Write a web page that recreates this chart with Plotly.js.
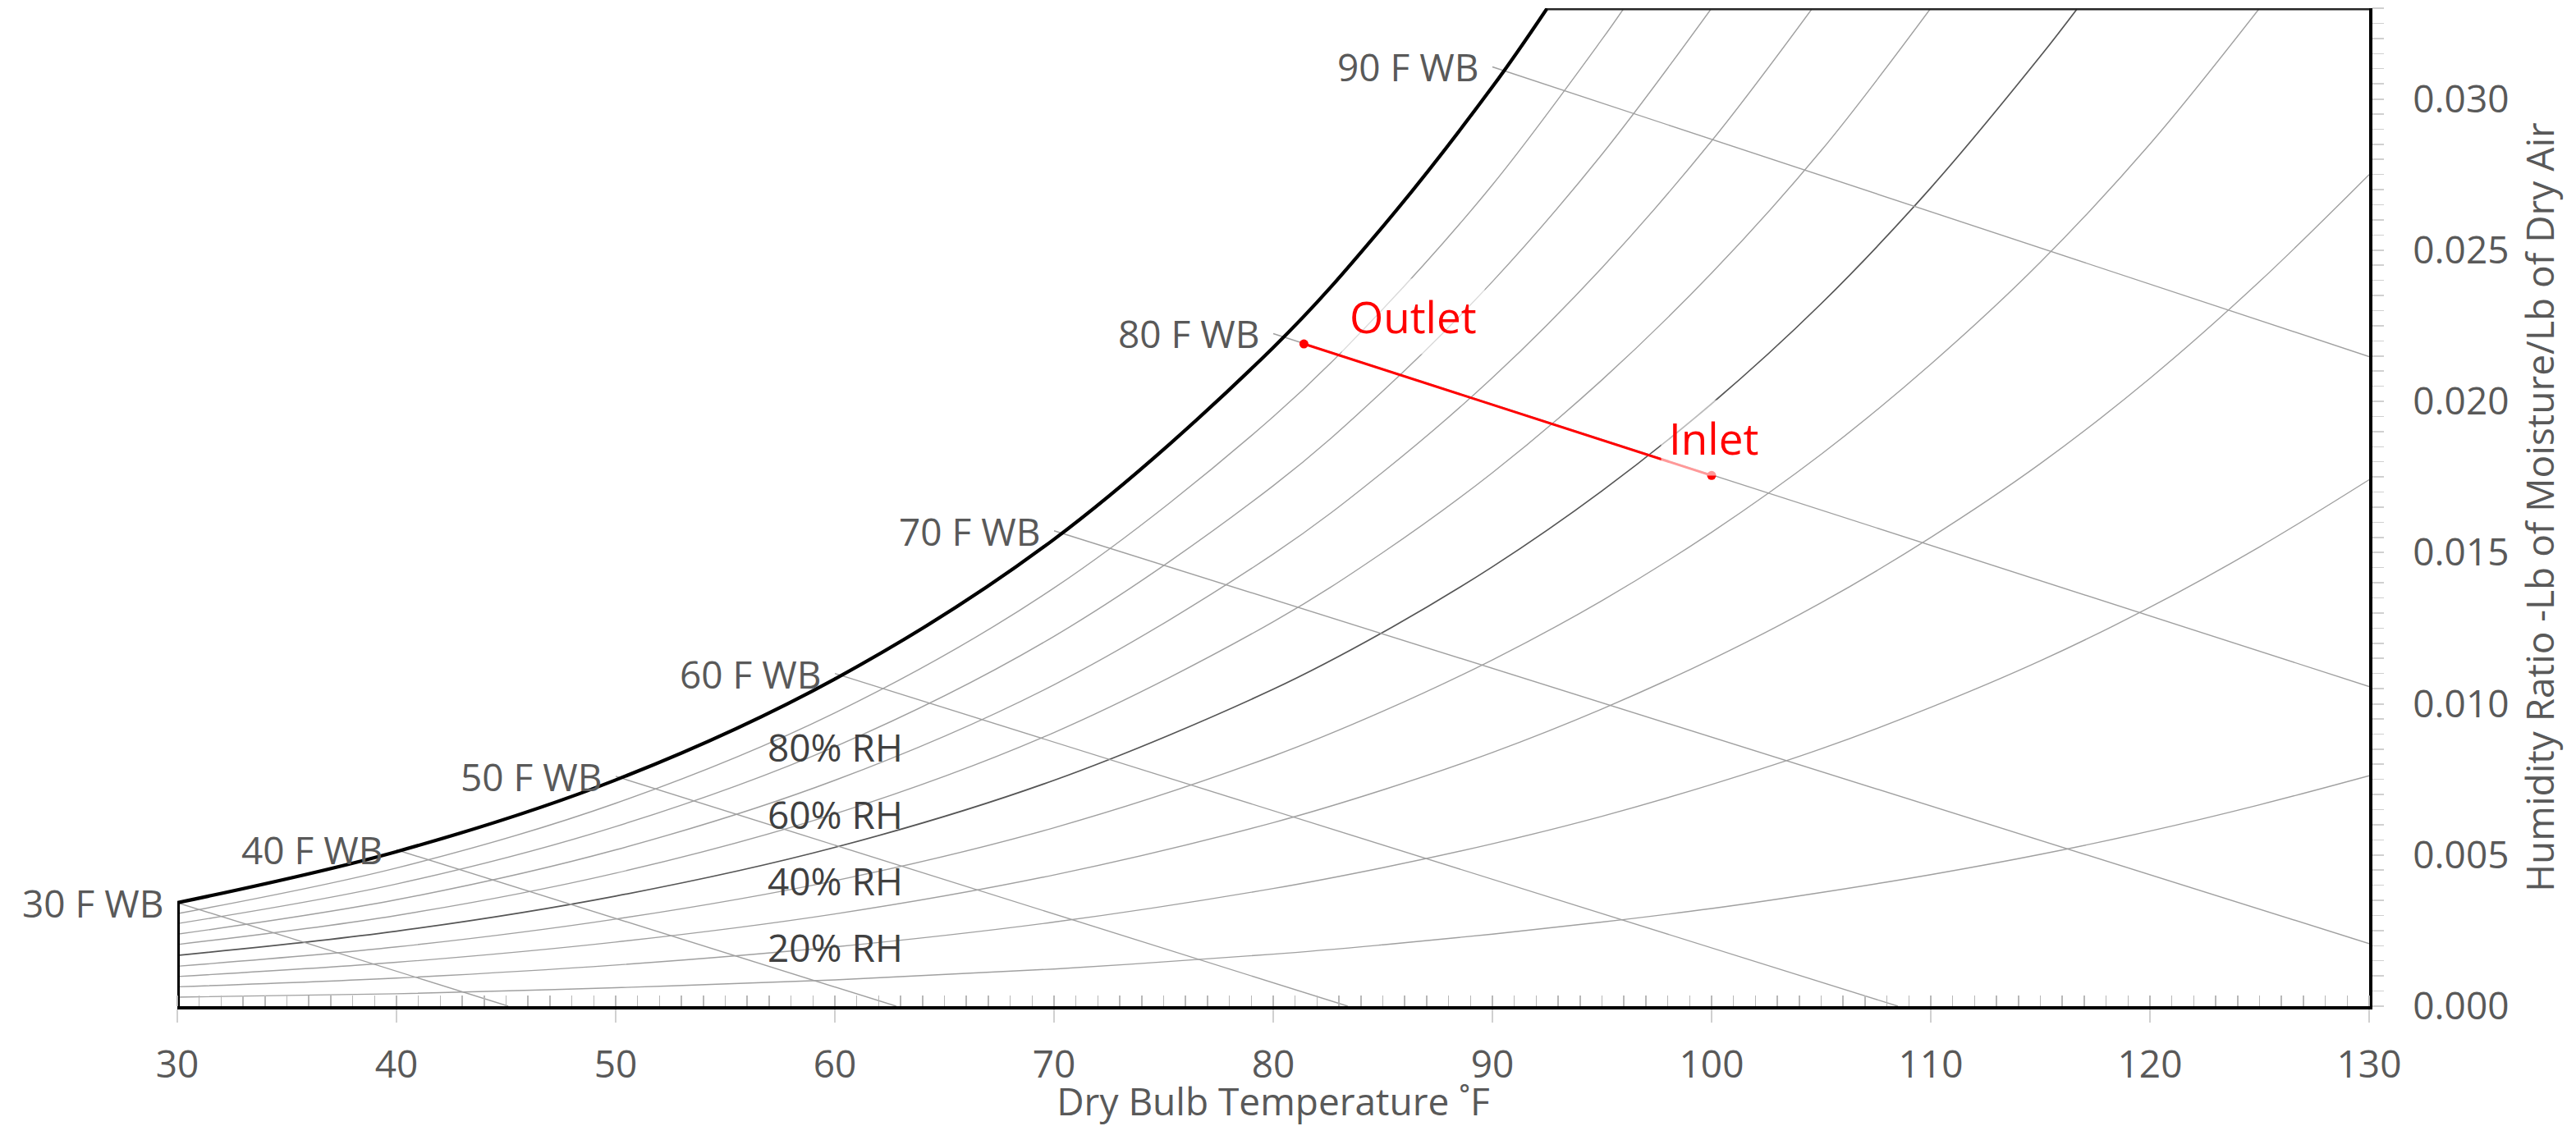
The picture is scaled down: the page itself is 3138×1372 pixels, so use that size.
<!DOCTYPE html>
<html>
<head>
<meta charset="utf-8">
<title>Psychrometric chart – evaporative cooling process</title>
<script src="https://cdn.plot.ly/plotly-3.0.1.min.js"></script>
<style>
  html, body { margin: 0; padding: 0; background: #ffffff; }
  #chart { width: 3138px; height: 1372px; }
</style>
</head>
<body>
<div id="chart"></div>
<script>
// ---------------------------------------------------------------
// Data: dry-bulb temperature (°F) vs humidity ratio (lb/lb dry air)
// ---------------------------------------------------------------

// Limits of the chart scales (curves stop at the top)
const tMin = 30, tMax = 130;
const wTop = 0.033;

// Saturation curve (the thick left boundary)
const satT = [30, 40, 50, 60, 70, 80, 85, 90, 92.5];
const satW = [0.00342, 0.00511, 0.00748, 0.01082, 0.01544, 0.02178, 0.02578, 0.03040, 0.03300];

// Dry-bulb temperatures at which the relative-humidity curves are sampled
const rhTemps = [30, 40, 50, 60, 70, 80, 85, 90, 95, 100, 105, 110, 115, 120, 125, 130];

// Relative-humidity levels (%) and their humidity ratios along rhTemps
const rhLevels = [90, 80, 70, 60, 50, 40, 30, 20, 10];
const rh90W = [0.00306, 0.00457, 0.00671, 0.00970, 0.01383, 0.01949, 0.02305, 0.02716, 0.03197];
const rh80W = [0.00273, 0.00404, 0.00594, 0.00858, 0.01223, 0.01721, 0.02034, 0.02396, 0.02817];
const rh70W = [0.00238, 0.00352, 0.00517, 0.00747, 0.01063, 0.01495, 0.01766, 0.02078, 0.02442, 0.02861];
const rh60W = [0.00204, 0.00300, 0.00440, 0.00636, 0.00905, 0.01271, 0.01500, 0.01764, 0.02071, 0.02424, 0.02829];
const rh50W = [0.00168, 0.00248, 0.00364, 0.00525, 0.00747, 0.01048, 0.01236, 0.01453, 0.01704, 0.01992, 0.02323, 0.02706, 0.03141];
const rh40W = [0.00132, 0.00196, 0.00288, 0.00415, 0.00590, 0.00827, 0.00975, 0.01145, 0.01341, 0.01567, 0.01825, 0.02123, 0.02460, 0.02851];
const rh30W = [0.00098, 0.00145, 0.00212, 0.00305, 0.00434, 0.00607, 0.00715, 0.00839, 0.00983, 0.01147, 0.01334, 0.01550, 0.01794, 0.02076, 0.02396, 0.02750];
const rh20W = [0.00064, 0.00093, 0.00136, 0.00196, 0.00278, 0.00389, 0.00458, 0.00537, 0.00628, 0.00733, 0.00851, 0.00988, 0.01142, 0.01319, 0.01519, 0.01741];
const rh10W = [0.00030, 0.00041, 0.00061, 0.00087, 0.00123, 0.00172, 0.00203, 0.00238, 0.00278, 0.00323, 0.00376, 0.00435, 0.00502, 0.00579, 0.00666, 0.00762];
// Dry-bulb temperature where each RH curve meets the top of the scale (null = runs to 130 °F)
const rhTopT = [96.0, 100.0, 104.6, 110.0, 116.7, 125.0, null, null, null];

// Wet-bulb lines: start on saturation, end on the bottom or right edge
const wbTemps  = [30, 40, 50, 60, 70, 80, 90];
const wbStartW = [0.00342, 0.00517, 0.00760, 0.01100, 0.01572, 0.02224, 0.03106];
const wbEndT   = [45.1, 62.8, 83.4, 108.5, 130, 130, 130];
const wbEndW   = [0, 0, 0, 0, 0.00207, 0.01057, 0.02148];

// Cooling process: outlet and inlet states
const processNames = ['Outlet', 'Inlet'];
const processT = [81.4, 100.0];
const processW = [0.0219, 0.01755];

// RH curves that carry a label
const rhLabelLevels = [80, 60, 40, 20];

// ---------------------------------------------------------------
// Styling
// ---------------------------------------------------------------
const FONT = 'Open Sans, Liberation Sans, sans-serif';
const GREY_TEXT = '#595959';
const DARK_TEXT = '#404040';
const THIN_LINE = '#a0a0a0';
const MID_LINE = '#555555';
const RED = '#ff0000';

const rhSeries = [rh90W, rh80W, rh70W, rh60W, rh50W, rh40W, rh30W, rh20W, rh10W];
const traces = [];

// Relative-humidity curves
rhLevels.forEach((level, i) => {
  const w = rhSeries[i];
  const xs = rhTemps.slice(0, w.length);
  const ys = w.slice();
  if (rhTopT[i] !== null) { xs.push(rhTopT[i]); ys.push(wTop); }
  traces.push({
    type: 'scatter', mode: 'lines', x: xs, y: ys, name: level + '% RH',
    hoverinfo: 'skip', showlegend: false,
    line: { shape: 'spline', smoothing: 1, width: level === 50 ? 1.7 : 1.4,
            color: level === 50 ? MID_LINE : THIN_LINE }
  });
});

// Wet-bulb lines
wbTemps.forEach((t, i) => {
  traces.push({
    type: 'scatter', mode: 'lines', x: [t, wbEndT[i]], y: [wbStartW[i], wbEndW[i]],
    name: t + ' F WB', hoverinfo: 'skip', showlegend: false,
    line: { width: 1.4, color: THIN_LINE }
  });
});

// Saturation curve
traces.push({
  type: 'scatter', mode: 'lines', x: satT, y: satW, name: 'Saturation',
  hoverinfo: 'skip', showlegend: false,
  line: { shape: 'spline', smoothing: 1, width: 4.2, color: '#000000' }
});
// Left boundary below the saturation start
traces.push({
  type: 'scatter', mode: 'lines', x: [satT[0], satT[0]], y: [0, satW[0]],
  hoverinfo: 'skip', showlegend: false, line: { width: 6, color: '#000000' }
});
// Top boundary from the end of the saturation curve to the right edge
traces.push({
  type: 'scatter', mode: 'lines', x: [satT[satT.length - 1], tMax], y: [wTop, wTop],
  hoverinfo: 'skip', showlegend: false, line: { width: 5, color: '#262626' }
});

// Process line between outlet and inlet
traces.push({
  type: 'scatter', mode: 'lines+markers', x: processT, y: processW, name: 'Process',
  hoverinfo: 'skip', showlegend: false,
  line: { width: 3, color: RED },
  marker: { size: 11, color: RED }
});

// ---------------------------------------------------------------
// Labels
// ---------------------------------------------------------------
const annotations = [];

// Wet-bulb captions end just left of each line's start; placed in paper units
// horizontally so the 30 F caption can sit outside the plotted range
wbTemps.forEach((t, i) => {
  annotations.push({
    xref: 'paper', yref: 'y', x: (t - 0.58 - tMin) / (tMax - tMin), y: wbStartW[i],
    text: t + ' F WB', showarrow: false, xanchor: 'right', yanchor: 'middle',
    font: { family: FONT, size: 46, color: GREY_TEXT }
  });
});

const labelTempIndex = rhTemps.indexOf(60);
rhLabelLevels.forEach(level => {
  const w = rhSeries[rhLevels.indexOf(level)];
  annotations.push({
    xref: 'x', yref: 'y', x: rhTemps[labelTempIndex], y: w[labelTempIndex],
    text: level + '% RH', showarrow: false, xanchor: 'center', yanchor: 'middle',
    font: { family: FONT, size: 46, color: DARK_TEXT }
  });
});

// Outlet / Inlet captions sit above-right of their points
const captionOffsetT = [5.0, 0.1];
const captionOffsetW = [0.0009, 0.00125];
processNames.forEach((name, i) => {
  annotations.push({
    xref: 'x', yref: 'y',
    x: processT[i] + captionOffsetT[i], y: processW[i] + captionOffsetW[i],
    text: name, showarrow: false, xanchor: 'center', yanchor: 'middle',
    bgcolor: 'rgba(255,255,255,0.6)', borderpad: 9,
    font: { family: FONT, size: 53, color: RED }
  });
});

// ---------------------------------------------------------------
// Layout
// ---------------------------------------------------------------
const layout = {
  width: 3138, height: 1372,
  margin: { l: 216, r: 252, t: 10, b: 146, pad: 0 },
  paper_bgcolor: '#ffffff', plot_bgcolor: '#ffffff',
  showlegend: false,
  font: { family: FONT, color: GREY_TEXT, size: 46 },
  xaxis: {
    range: [tMin, tMax], tickmode: 'linear', tick0: tMin, dtick: 10,
    showgrid: false, zeroline: false,
    showline: true, linecolor: '#000000', linewidth: 4,
    ticks: 'outside', ticklen: 16, tickwidth: 2, tickcolor: '#d0d0d0',
    ticklabelstandoff: 12,
    tickfont: { family: FONT, size: 46, color: GREY_TEXT },
    minor: { tick0: tMin, dtick: 1, ticks: 'inside', ticklen: 13, tickwidth: 1.5,
             tickcolor: '#b8b8b8', showgrid: false },
    title: { text: 'Dry Bulb Temperature ˚F', standoff: 12,
             font: { family: FONT, size: 46, color: GREY_TEXT } }
  },
  yaxis: {
    side: 'right', range: [0, wTop], tickmode: 'linear', tick0: 0, dtick: 0.005,
    tickformat: '.3f',
    showgrid: false, zeroline: false,
    showline: true, linecolor: '#000000', linewidth: 4,
    ticks: 'outside', ticklen: 14, tickwidth: 2, tickcolor: '#d0d0d0',
    ticklabelstandoff: 26,
    tickfont: { family: FONT, size: 46, color: GREY_TEXT },
    minor: { tick0: 0, dtick: 0.0005, ticks: 'outside', ticklen: 14, tickwidth: 1.5,
             tickcolor: '#d0d0d0', showgrid: false },
    title: { text: 'Humidity Ratio -Lb of Moisture/Lb of Dry Air', standoff: 24,
             font: { family: FONT, size: 46, color: GREY_TEXT } }
  },
  annotations: annotations
};

Plotly.newPlot('chart', traces, layout, { displayModeBar: false, staticPlot: true });
</script>
</body>
</html>
